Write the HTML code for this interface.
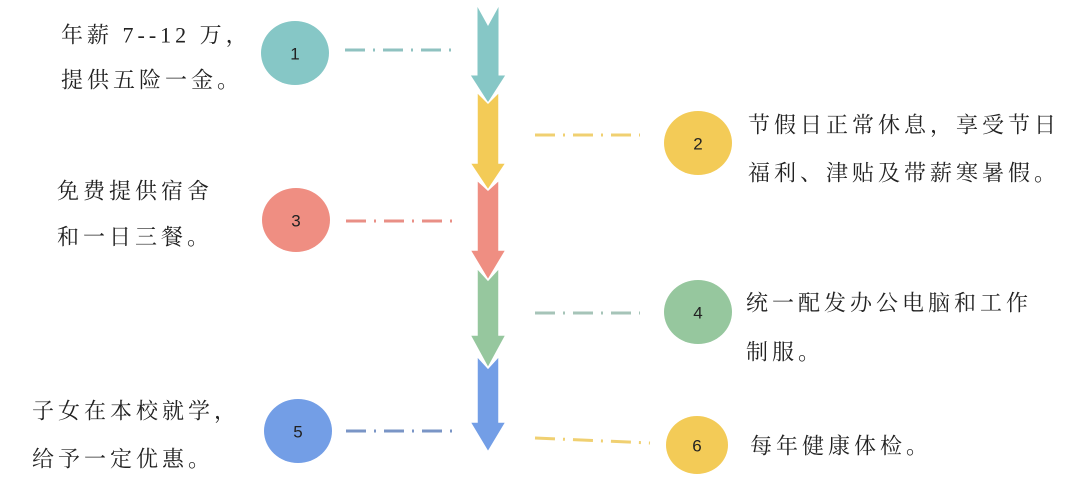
<!DOCTYPE html>
<html><head><meta charset="utf-8"><style>
html,body{margin:0;padding:0;background:#fff;}
svg{display:block}
text.t{font-family:"Liberation Serif","Noto Serif CJK SC","Noto Serif CJK JP",serif;font-size:22px;fill:#222;letter-spacing:4px;dominant-baseline:central}
text.n{font-family:"Liberation Sans",sans-serif;font-size:17px;fill:#222;text-anchor:middle;dominant-baseline:central}
</style></head><body>
<svg width="1080" height="502" viewBox="0 0 1080 502">
<polygon points="477,5 488,25 499,5 499,75 506,75 488,103 470,75 477,75" fill="#86c7c6" stroke="#fff" stroke-width="1"/>
<polygon points="477,92 488,103 499,92 499,163 506,163 488,190 470,163 477,163" fill="#f3cb57" stroke="#fff" stroke-width="1.5"/>
<polygon points="477,180 488,190 499,180 499,250 506,250 488,280 470,250 477,250" fill="#ef8e82" stroke="#fff" stroke-width="1.5"/>
<polygon points="477,268 488,280 499,268 499,335 506,335 488,368 470,335 477,335" fill="#96c79e" stroke="#fff" stroke-width="1.5"/>
<polygon points="477,356 488,368 499,356 499,422 506,422 488,452 470,422 477,422" fill="#739ee6" stroke="#fff" stroke-width="1.5"/>
<g stroke-width="3" fill="none">
<line x1="345" y1="50" x2="452" y2="50" stroke="#8fc2c0" stroke-dasharray="20,8,2,8"/>
<line x1="346" y1="221" x2="452" y2="221" stroke="#e98f86" stroke-dasharray="20,8,2,8"/>
<line x1="346" y1="431" x2="452" y2="431" stroke="#7a95c6" stroke-dasharray="20,8,2,8"/>
<line x1="535" y1="135" x2="640" y2="135" stroke="#f0d071" stroke-dasharray="20,8,2,8"/>
<line x1="535" y1="313" x2="640" y2="313" stroke="#a6c4b8" stroke-dasharray="20,8,2,8"/>
<line x1="535" y1="438" x2="650" y2="443" stroke="#f0d071" stroke-dasharray="20,8,2,8"/>
</g>
<ellipse cx="295" cy="53" rx="34" ry="32" fill="#86c7c6"/><text class="n" x="295" y="54">1</text>
<ellipse cx="698" cy="143" rx="34" ry="32" fill="#f3cb57"/><text class="n" x="698" y="144">2</text>
<ellipse cx="296" cy="220" rx="34" ry="32" fill="#ef8e82"/><text class="n" x="296" y="221">3</text>
<ellipse cx="698" cy="312" rx="34" ry="32" fill="#96c79e"/><text class="n" x="698" y="313">4</text>
<ellipse cx="298" cy="431" rx="34" ry="32" fill="#739ee6"/><text class="n" x="298" y="432">5</text>
<ellipse cx="697" cy="445" rx="31" ry="29" fill="#f3cb57"/><text class="n" x="697" y="446">6</text>
<text class="t" x="61" y="35">年薪 7--12 万，</text>
<text class="t" x="61" y="80">提供五险一金。</text>
<text class="t" x="57" y="191">免费提供宿舍</text>
<text class="t" x="57" y="237">和一日三餐。</text>
<text class="t" x="32" y="411">子女在本校就学，</text>
<text class="t" x="32" y="459">给予一定优惠。</text>
<text class="t" x="748" y="125">节假日正常休息，享受节日</text>
<text class="t" x="748" y="173">福利、津贴及带薪寒暑假。</text>
<text class="t" x="746" y="303">统一配发办公电脑和工作</text>
<text class="t" x="746" y="352">制服。</text>
<text class="t" x="750" y="446">每年健康体检。</text>
</svg>
</body></html>
